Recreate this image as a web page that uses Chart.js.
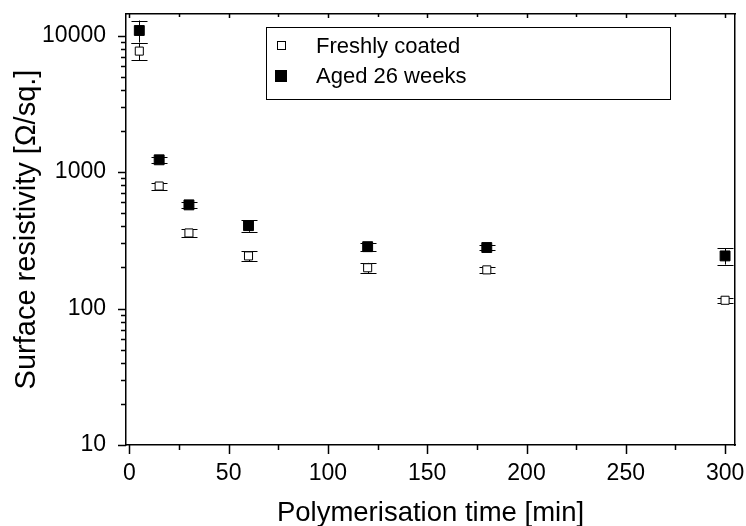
<!DOCTYPE html>
<html>
<head>
<meta charset="utf-8">
<script src="https://cdn.jsdelivr.net/npm/chart.js@4/dist/chart.umd.min.js"></script>
<style>
  html, body { margin: 0; padding: 0; background: #fff; }
  #wrap { width: 746px; height: 526px; }
</style>
</head>
<body>
<div id="wrap"><canvas id="c" width="746" height="526"></canvas></div>
<script>
// ---- data ----
const times = [5, 15, 30, 60, 120, 180, 300];
const freshValues = [7700, 790, 358, 243, 199, 192, 115];
const freshErrors = [1100, 45, 25, 20, 17, 9, 5];
const agedValues = [10900, 1230, 575, 405, 284, 280, 243];
const agedErrors = [2000, 70, 30, 40, 20, 13, 33];
const seriesLabels = ['Freshly coated', 'Aged 26 weeks'];
const xTickLabels = [0, 50, 100, 150, 200, 250, 300];
const yTickLabels = [10, 100, 1000, 10000];
const xTitle = 'Polymerisation time [min]';
const yTitle = 'Surface resistivity [\u03A9/sq.]';

const X_MIN = -1.7, X_MAX = 305, Y_MIN = 10, Y_MAX = 14400;
const FONT = "'Liberation Sans', Arial, sans-serif";

function toPoints(vals) { return times.map((t, i) => ({ x: t, y: vals[i] })); }
function noPad(s) { s.paddingLeft = 0; s.paddingRight = 0; s.paddingTop = 0; s.paddingBottom = 0; }

const errorBarPlugin = {
  id: 'errorBars',
  beforeDatasetsDraw(chart) {
    const ctx = chart.ctx, xs = chart.scales.x, ys = chart.scales.y;
    const sets = [[freshValues, freshErrors], [agedValues, agedErrors]];
    ctx.save();
    ctx.strokeStyle = '#000';
    ctx.lineWidth = 1;
    sets.forEach(([vals, errs]) => {
      times.forEach((t, i) => {
        const px = Math.round(xs.getPixelForValue(t)) + 0.5;
        const top = ys.getPixelForValue(vals[i] + errs[i]);
        const bot = ys.getPixelForValue(vals[i] - errs[i]);
        const hw = 8;
        ctx.beginPath();
        ctx.moveTo(px, top); ctx.lineTo(px, bot);
        ctx.moveTo(px - hw, Math.round(top) + 0.5); ctx.lineTo(px + hw, Math.round(top) + 0.5);
        ctx.moveTo(px - hw, Math.round(bot) + 0.5); ctx.lineTo(px + hw, Math.round(bot) + 0.5);
        ctx.stroke();
      });
    });
    ctx.restore();
  }
};

const tickPlugin = {
  id: 'tickMarks',
  afterDraw(chart) {
    const ctx = chart.ctx, xs = chart.scales.x, ys = chart.scales.y, a = chart.chartArea;
    ctx.save();
    ctx.strokeStyle = '#000';
    ctx.lineWidth = 1.5;
    ctx.beginPath();
    for (let i = 0; i < xTickLabels.length; i++) {
      const v = xTickLabels[i];
      const px = Math.round(xs.getPixelForValue(v)) + 0.5;
      ctx.moveTo(px, a.bottom); ctx.lineTo(px, a.bottom + 9);
      ctx.moveTo(px, a.top); ctx.lineTo(px, a.top + 4);
      if (i < xTickLabels.length - 1) {
        const m = (v + xTickLabels[i + 1]) / 2;
        const pm = Math.round(xs.getPixelForValue(m)) + 0.5;
        ctx.moveTo(pm, a.bottom); ctx.lineTo(pm, a.bottom + 5);
        ctx.moveTo(pm, a.top); ctx.lineTo(pm, a.top + 3);
      }
    }
    for (let i = 0; i < yTickLabels.length; i++) {
      const v = yTickLabels[i];
      const py = Math.round(ys.getPixelForValue(v)) + 0.5;
      ctx.moveTo(a.left, py); ctx.lineTo(a.left - 8, py);
      for (let k = 2; k <= 9; k++) {
        const mv = v * k;
        if (mv > Y_MAX) break;
        const pm = Math.round(ys.getPixelForValue(mv)) + 0.5;
        ctx.moveTo(a.left, pm); ctx.lineTo(a.left - 5, pm);
      }
    }
    ctx.stroke();
    ctx.restore();
  }
};

const legendPlugin = {
  id: 'boxLegend',
  afterDraw(chart) {
    const ctx = chart.ctx;
    const bx = 266.5, by = 27.5, bw = 404, bh = 72;
    ctx.save();
    ctx.strokeStyle = '#000';
    ctx.lineWidth = 1;
    ctx.strokeRect(bx, by, bw, bh);
    ctx.fillStyle = '#fff';
    ctx.fillRect(278, 42, 7, 8);
    ctx.strokeRect(277.5, 41.5, 8, 8);
    ctx.fillStyle = '#000';
    ctx.fillRect(275, 70, 12, 12);
    ctx.font = '22px ' + FONT;
    ctx.textBaseline = 'alphabetic';
    ctx.fillText(seriesLabels[0], 316, 53);
    ctx.fillText(seriesLabels[1], 316, 83);
    ctx.restore();
  }
};

new Chart(document.getElementById('c'), {
  type: 'scatter',
  data: {
    datasets: [
      { label: seriesLabels[0], data: toPoints(freshValues), pointStyle: 'rect',
        pointRadius: 5.7, pointBackgroundColor: '#fff', pointBorderColor: '#000', pointBorderWidth: 1, showLine: false },
      { label: seriesLabels[1], data: toPoints(agedValues), pointStyle: 'rect',
        pointRadius: 7, pointBackgroundColor: '#000', pointBorderColor: '#000', pointBorderWidth: 1, showLine: false }
    ]
  },
  options: {
    responsive: false,
    animation: false,
    devicePixelRatio: 1,
    layout: { padding: { left: 0, top: 14, right: 11, bottom: 0 } },
    plugins: { legend: { display: false }, tooltip: { enabled: false } },
    scales: {
      x: {
        type: 'linear', position: 'bottom', min: X_MIN, max: X_MAX,
        grid: { display: false },
        border: { display: true, color: '#000', width: 1.5 },
        afterBuildTicks: s => { s.ticks = xTickLabels.map(v => ({ value: v })); },
        afterFit: s => { s.height = 81; noPad(s); },
        ticks: { color: '#000', font: { family: FONT, size: 23 }, padding: 7, autoSkip: false, maxRotation: 0,
                 callback: v => String(v) },
        title: { display: true, text: xTitle, color: '#000', font: { family: FONT, size: 27.5, lineHeight: 0.9 },
                 padding: { top: 0, bottom: 0 } }
      },
      y: {
        type: 'logarithmic', position: 'left', min: Y_MIN, max: Y_MAX,
        grid: { display: false },
        border: { display: true, color: '#000', width: 1.5 },
        afterBuildTicks: s => { s.ticks = yTickLabels.map(v => ({ value: v, major: true })); },
        afterFit: s => { s.width = 126; noPad(s); },
        ticks: { color: '#000', font: { family: FONT, size: 23 }, padding: 12, autoSkip: false,
                 callback: v => String(v) },
        title: { display: true, text: yTitle, color: '#000', font: { family: FONT, size: 29, lineHeight: 1.0 },
                 padding: { top: 12, bottom: 0 } }
      },
      x2: {
        type: 'linear', position: 'top', min: X_MIN, max: X_MAX,
        grid: { display: false }, ticks: { display: false },
        border: { display: true, color: '#000', width: 1.5 },
        afterFit: s => { s.height = 0; noPad(s); }
      },
      y2: {
        type: 'logarithmic', position: 'right', min: Y_MIN, max: Y_MAX,
        grid: { display: false }, ticks: { display: false },
        border: { display: true, color: '#000', width: 1.5 },
        afterFit: s => { s.width = 0; noPad(s); }
      }
    }
  },
  plugins: [errorBarPlugin, tickPlugin, legendPlugin]
});
</script>
</body>
</html>
